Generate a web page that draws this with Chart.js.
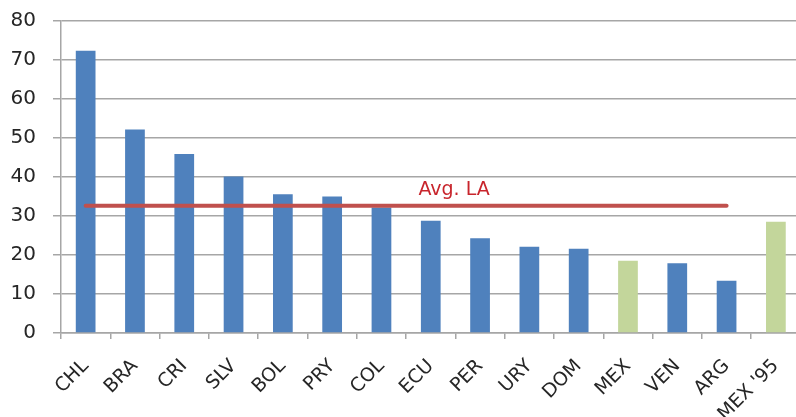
<!DOCTYPE html>
<html>
<head>
<meta charset="utf-8">
<script src="https://cdn.jsdelivr.net/npm/chart.js@4"></script>
<style>
  html, body { margin: 0; padding: 0; background: #fff; overflow: hidden; }
  #wrap { width: 808px; height: 425px; margin-top: -8px; }
</style>
</head>
<body>
<div id="wrap"><canvas id="chart"></canvas></div>
<script>
const categories = ["CHL", "BRA", "CRI", "SLV", "BOL", "PRY", "COL", "ECU", "PER", "URY", "DOM", "MEX", "VEN", "ARG", "MEX '95"];
const values = [72.4, 52.2, 45.9, 40.1, 35.6, 35.0, 32.2, 28.8, 24.3, 22.1, 21.6, 18.5, 17.9, 13.4, 28.5];
const highlighted = ["MEX", "MEX '95"];
const avgLA = 32.6;
const avgLastCategory = "ARG";
const yTicks = [0, 10, 20, 30, 40, 50, 60, 70, 80];

const blue = "#4F81BD";
const green = "#C3D69B";
const red = "#C0504D";

const lastIdx = categories.indexOf(avgLastCategory);
const avgData = categories.map((c, i) => (i <= lastIdx ? avgLA : null));

// label "Avg. LA" sits above the average line
const avgLabel = {
  id: "avgLabel",
  afterDatasetsDraw(chart) {
    const { ctx, scales } = chart;
    const x = (scales.x.getPixelForValue(7) + scales.x.getPixelForValue(8)) / 2 - 37;
    const y = scales.y.getPixelForValue(avgLA) - 16;
    ctx.save();
    ctx.font = "19px 'DejaVu Sans'";
    ctx.fillStyle = "#C8252C";
    ctx.textAlign = "left";
    ctx.textBaseline = "middle";
    ctx.fillText("Avg. LA", x, y);
    ctx.restore();
  }
};

new Chart(document.getElementById("chart"), {
  type: "bar",
  data: {
    labels: categories,
    datasets: [
      {
        type: "line",
        data: avgData,
        borderColor: red,
        borderWidth: 4,
        borderCapStyle: "round",
        pointRadius: 0,
        fill: false,
        order: 0
      },
      {
        data: values,
        backgroundColor: categories.map(c => (highlighted.includes(c) ? green : blue)),
        barPercentage: 0.8,
        categoryPercentage: 0.5,
        order: 1
      }
    ]
  },
  options: {
    responsive: true,
    maintainAspectRatio: false,
    animation: false,
    layout: { padding: { left: 10, top: 2, right: 0, bottom: 0 } },
    plugins: { legend: { display: false }, tooltip: { enabled: false } },
    scales: {
      x: {
        afterFit: s => { s.height = 84; },
        grid: { drawOnChartArea: false, drawTicks: true, tickLength: 6, color: "#A6A6A6", lineWidth: 1.5 },
        border: { color: "#A6A6A6", width: 1.5 },
        ticks: {
          minRotation: 45, maxRotation: 45, padding: 16, autoSkip: false,
          color: "#262626", font: { family: "'DejaVu Sans'", size: 19 }
        }
      },
      y: {
        min: 0, max: 80,
        afterFit: s => { s.width = 51; },
        afterBuildTicks: s => { s.ticks = yTicks.map(v => ({ value: v })); },
        grid: { color: "#A6A6A6", lineWidth: 1.5, tickLength: 8 },
        border: { color: "#A6A6A6", width: 1.5 },
        ticks: { padding: 17, color: "#262626", font: { family: "'DejaVu Sans'", size: 20 } }
      }
    }
  },
  plugins: [avgLabel]
});
</script>
</body>
</html>
